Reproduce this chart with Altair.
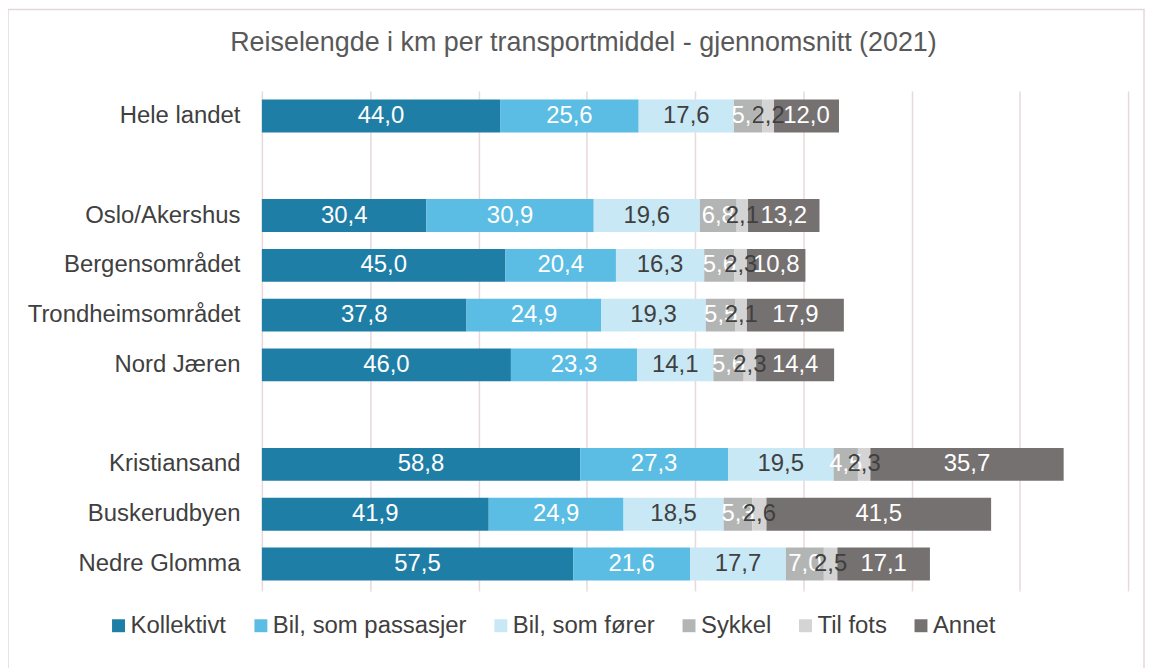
import altair as alt
import pandas as pd

categories = ["Hele landet", "Oslo/Akershus", "Bergensområdet", "Trondheimsområdet",
              "Nord Jæren", "Kristiansand", "Buskerudbyen", "Nedre Glomma"]
modes = ["Kollektivt", "Bil, som passasjer", "Bil, som fører", "Sykkel", "Til fots", "Annet"]
colors = ["#1f7ea6", "#5bbde3", "#c8e8f5", "#b3b5b4", "#d4d4d4", "#767171"]
label_colors = ["#ffffff", "#ffffff", "#404040", "#ffffff", "#404040", "#ffffff"]

kollektivt = [44.0, 30.4, 45.0, 37.8, 46.0, 58.8, 41.9, 57.5]
bil_passasjer = [25.6, 30.9, 20.4, 24.9, 23.3, 27.3, 24.9, 21.6]
bil_forer = [17.6, 19.6, 16.3, 19.3, 14.1, 19.5, 18.5, 17.7]
sykkel = [5.2, 6.8, 5.6, 5.5, 5.6, 4.5, 5.3, 7.0]
til_fots = [2.2, 2.1, 2.3, 2.1, 2.3, 2.3, 2.6, 2.5]
annet = [12.0, 13.2, 10.8, 17.9, 14.4, 35.7, 41.5, 17.1]

y_domain = ["Hele landet", " ", "Oslo/Akershus", "Bergensområdet", "Trondheimsområdet",
            "Nord Jæren", "  ", "Kristiansand", "Buskerudbyen", "Nedre Glomma"]
grid_values = [0, 20, 40, 60, 80, 100, 120, 140, 160]

series = [kollektivt, bil_passasjer, bil_forer, sykkel, til_fots, annet]
rows = []
for mi, (m, vals) in enumerate(zip(modes, series)):
    for c, v in zip(categories, vals):
        rows.append({"kategori": c, "transportmiddel": m, "verdi": v, "ordre": mi,
                     "tekstfarge": label_colors[mi]})
df = pd.DataFrame(rows)

FONT = "Liberation Sans"
FS = 24

base = alt.Chart(df).transform_stack(
    stack="verdi", groupby=["kategori"], as_=["x0", "x1"],
    sort=[alt.SortField("ordre", order="ascending")]
).transform_calculate(
    mid="(datum.x0 + datum.x1) / 2",
    etikett="replace(format(datum.verdi, '.1f'), '.', ',')"
)

y_axis = alt.Axis(title=None, domain=False, ticks=False, labelPadding=22,
                  labelFont=FONT, labelFontSize=FS, labelColor="#404040", labelLimit=400)
y_scale = alt.Scale(domain=y_domain, paddingInner=0.34, paddingOuter=0.17)
x_axis = alt.Axis(title=None, labels=False, domain=False, values=grid_values,
                  grid=True, gridColor="#e8d8dc", gridWidth=1.5,
                  ticks=True, tickColor="#e8d8dc", tickWidth=1.5, tickSize=2)
x_scale = alt.Scale(domain=[0, 160], nice=False)

bars = base.mark_bar().encode(
    x=alt.X("x0:Q", scale=x_scale, axis=x_axis),
    x2="x1:Q",
    y=alt.Y("kategori:N", scale=y_scale, axis=y_axis),
    color=alt.Color("transportmiddel:N", scale=alt.Scale(domain=modes, range=colors),
                    legend=alt.Legend(title=None, orient="none", direction="horizontal",
                                      legendX=-156, legendY=525, symbolType="square",
                                      symbolSize=169, symbolStrokeWidth=0, labelFont=FONT,
                                      labelFontSize=FS, labelColor="#404040", labelOffset=0,
                                      columnPadding=22, labelLimit=400)),
    order=alt.Order("ordre:Q"),
)

labels = base.mark_text(font=FONT, fontSize=FS, baseline="middle", align="center").encode(
    x=alt.X("mid:Q", scale=x_scale, axis=x_axis),
    y=alt.Y("kategori:N", scale=y_scale, axis=y_axis),
    text="etikett:N",
    color=alt.Color("tekstfarge:N", scale=None),
)

border = alt.Chart(pd.DataFrame({"a": [0]})).mark_rect(
    fill=None, stroke="#e5d6da", strokeWidth=1.5
).encode(x=alt.value(-255), x2=alt.value(886), y=alt.value(-82), y2=alt.value(620))

chart = alt.layer(border, bars, labels).properties(
    width=870, height=500,
    title=alt.TitleParams("Reiselengde i km per transportmiddel - gjennomsnitt (2021)",
                          font=FONT, fontSize=27, fontWeight="normal", color="#595959",
                          anchor="middle", frame="group", dx=-112, offset=-48),
    padding={"left": 255, "top": 82, "right": 18, "bottom": 78},
    autosize=alt.AutoSizeParams(type="none"),
    background="white",
).configure_view(stroke=None)

chart.save("out.html", embed_options={"renderer": "svg", "actions": False})
